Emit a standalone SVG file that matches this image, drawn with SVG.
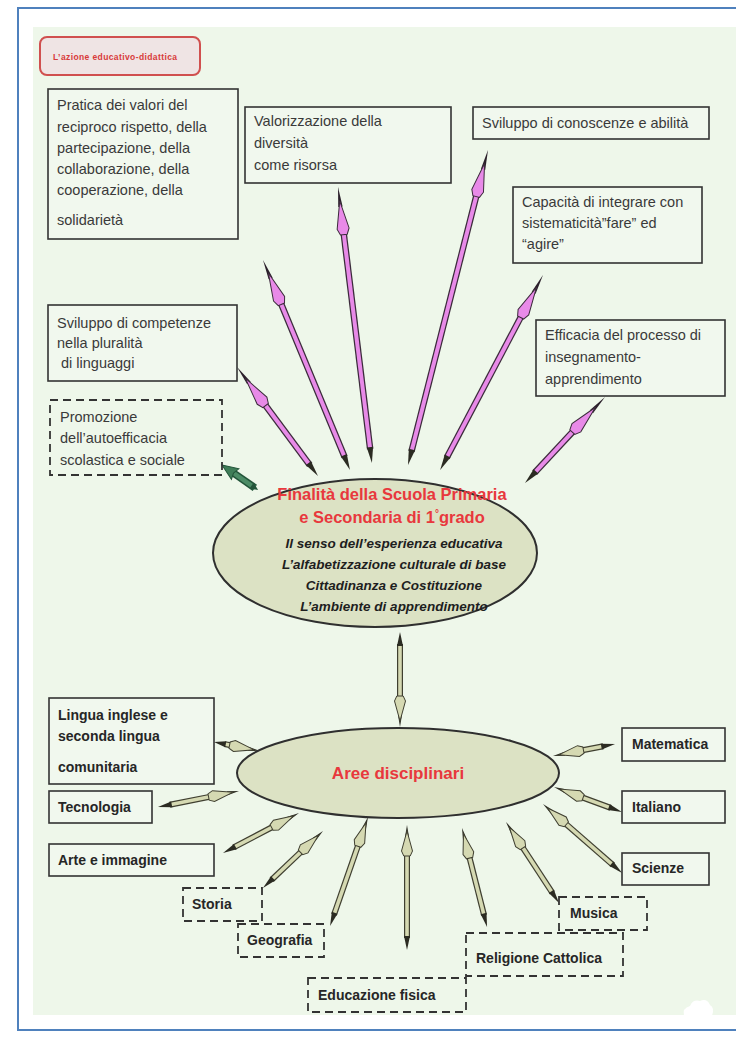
<svg xmlns="http://www.w3.org/2000/svg" xmlns:xlink="http://www.w3.org/1999/xlink" width="736" height="1038" viewBox="0 0 736 1038">
<style>
.bx{fill:#f1f8ee;stroke:#333;stroke-width:1.6}
.dbx{fill:none;stroke:#333;stroke-width:1.8;stroke-dasharray:8 5}
.t{font-family:"Liberation Sans",Arial,sans-serif;font-size:14.5px;fill:#3a3a3a}
.tb{font-family:"Liberation Sans",Arial,sans-serif;font-size:14px;font-weight:bold;fill:#262626}
.red{font-family:"Liberation Sans",Arial,sans-serif;font-weight:bold;fill:#e8383d;text-anchor:middle}
.bi{font-family:"Liberation Sans",Arial,sans-serif;font-size:13.5px;font-weight:bold;font-style:italic;fill:#1e1e1e;text-anchor:middle}
.po{stroke:#3b2b3b;stroke-width:6.5}
.pi{stroke:#e88ae8;stroke-width:4}
.oo{stroke:#3f3f30;stroke-width:6}
.oi{stroke:#d5d9b2;stroke-width:3.6}
.tl{fill:#2b2b22}
.ell{fill:#dce2c4;stroke:#2f2f2f;stroke-width:2}
</style>
<defs>
<g id="pkhead">
<path d="M0,0 L-20,-2.2 L-20,2.2 Z" fill="#2a1f2a"/>
<path d="M-14,0 L-42,-6 L-48,-3.4 L-48,3.4 L-42,6 Z" fill="#e88ae8" stroke="#3b2b3b" stroke-width="1"/>
</g>
<g id="olhead">
<path d="M0,0 L-12,-2 L-12,2 Z" fill="#2b2b22"/>
<path d="M-6,0 L-26,-5.5 L-31,-3.2 L-31,3.2 L-26,5.5 Z" fill="#d5d9b2" stroke="#3f3f30" stroke-width="1"/>
</g>
</defs>
<rect x="0" y="0" width="736" height="1038" fill="#ffffff"/>
<rect x="33" y="27" width="710" height="988" fill="#eef7ea"/>
<rect x="18" y="8" width="740" height="1022" fill="none" stroke="#4f81bd" stroke-width="2"/>

<g id="title">
<rect x="40" y="37" width="160" height="38" rx="7" fill="#efe4e4" stroke="#d0504f" stroke-width="2"/>
<text x="53" y="60" font-family="Liberation Sans,Arial,sans-serif" font-size="8.5" font-weight="bold" fill="#d83a3a" textLength="124">L’azione educativo-didattica</text>
</g>

<g id="connectors">
<g transform="translate(237,367) rotate(-126.6)"><line class="po" x1="-122" x2="-47"/><line class="pi" x1="-122" x2="-47"/><path class="tl" d="M-135.8,0 l16,-3.2 v6.4 z"/><use href="#pkhead"/></g>
<g transform="translate(263,260) rotate(-112.5)"><line class="po" x1="-213.3" x2="-47"/><line class="pi" x1="-213.3" x2="-47"/><path class="tl" d="M-227.3,0 l16,-3.2 v6.4 z"/><use href="#pkhead"/></g>
<g transform="translate(338,187) rotate(-97)"><line class="po" x1="-264.1" x2="-47"/><line class="pi" x1="-264.1" x2="-47"/><path class="tl" d="M-278.1,0 l16,-3.2 v6.4 z"/><use href="#pkhead"/></g>
<g transform="translate(488,150) rotate(-75.75)"><line class="po" x1="-311" x2="-47"/><line class="pi" x1="-311" x2="-47"/><path class="tl" d="M-325,0 l16,-3.2 v6.4 z"/><use href="#pkhead"/></g>
<g transform="translate(543,275) rotate(-62.2)"><line class="po" x1="-206.5" x2="-47"/><line class="pi" x1="-206.5" x2="-47"/><path class="tl" d="M-220.5,0 l16,-3.2 v6.4 z"/><use href="#pkhead"/></g>
<g transform="translate(605,397) rotate(-47.1)"><line class="po" x1="-103.5" x2="-47"/><line class="pi" x1="-103.5" x2="-47"/><path class="tl" d="M-117.5,0 l16,-3.2 v6.4 z"/><use href="#pkhead"/></g>
<g transform="translate(222,465) rotate(-145.2)">
<line x1="-40" x2="-14" stroke="#23553a" stroke-width="7.5"/><line x1="-40" x2="-14" stroke="#4c8c66" stroke-width="4.5"/>
<path d="M0,0 L-16,-6.5 L-14,0 L-16,6.5 Z" fill="#3f7d58" stroke="#23553a" stroke-width="1"/>
<path d="M-44,0 l8,-3.5 v7 z" fill="#23553a"/>
</g>
<g transform="translate(400,727) rotate(90)"><line class="oo" x1="-83" x2="-30"/><line class="oi" x1="-83" x2="-30"/><path class="tl" d="M-95,0 l14,-3 v6 z"/><use href="#olhead"/></g>
<g transform="translate(260,751) rotate(11.1)"><line class="oo" x1="-36" x2="-30"/><line class="oi" x1="-36" x2="-30"/><path class="tl" d="M-46.9,0 l12,-3 v6 z"/><use href="#olhead"/></g>
<g transform="translate(239,791) rotate(-11.2)"><line class="oo" x1="-70.6" x2="-30"/><line class="oi" x1="-70.6" x2="-30"/><path class="tl" d="M-82.6,0 l14,-3 v6 z"/><use href="#olhead"/></g>
<g transform="translate(299,813) rotate(-27.8)"><line class="oo" x1="-73.9" x2="-30"/><line class="oi" x1="-73.9" x2="-30"/><path class="tl" d="M-85.9,0 l14,-3 v6 z"/><use href="#olhead"/></g>
<g transform="translate(323,831) rotate(-43.5)"><line class="oo" x1="-70.8" x2="-30"/><line class="oi" x1="-70.8" x2="-30"/><path class="tl" d="M-82.8,0 l14,-3 v6 z"/><use href="#olhead"/></g>
<g transform="translate(368,817) rotate(-70.8)"><line class="oo" x1="-103.4" x2="-30"/><line class="oi" x1="-103.4" x2="-30"/><path class="tl" d="M-115.4,0 l14,-3 v6 z"/><use href="#olhead"/></g>
<g transform="translate(407,825) rotate(-90)"><line class="oo" x1="-113" x2="-30"/><line class="oi" x1="-113" x2="-30"/><path class="tl" d="M-125,0 l14,-3 v6 z"/><use href="#olhead"/></g>
<g transform="translate(462,828) rotate(-104.2)"><line class="oo" x1="-90.1" x2="-30"/><line class="oi" x1="-90.1" x2="-30"/><path class="tl" d="M-102.1,0 l14,-3 v6 z"/><use href="#olhead"/></g>
<g transform="translate(506,822) rotate(-123.2)"><line class="oo" x1="-84.8" x2="-30"/><line class="oi" x1="-84.8" x2="-30"/><path class="tl" d="M-96.8,0 l14,-3 v6 z"/><use href="#olhead"/></g>
<g transform="translate(543,804) rotate(-138.9)"><line class="oo" x1="-92.9" x2="-30"/><line class="oi" x1="-92.9" x2="-30"/><path class="tl" d="M-104.9,0 l14,-3 v6 z"/><use href="#olhead"/></g>
<g transform="translate(554,787) rotate(-159.8)"><line class="oo" x1="-60.4" x2="-30"/><line class="oi" x1="-60.4" x2="-30"/><path class="tl" d="M-72.4,0 l14,-3 v6 z"/><use href="#olhead"/></g>
<g transform="translate(553,756) rotate(169.05)"><line class="oo" x1="-51.2" x2="-30"/><line class="oi" x1="-51.2" x2="-30"/><path class="tl" d="M-63.2,0 l14,-3 v6 z"/><use href="#olhead"/></g>
</g>

<g id="n-pratica"><rect class="bx" x="48" y="89" width="190" height="150"/>
<text class="t" x="57" y="110">Pratica dei valori del</text>
<text class="t" x="57" y="132">reciproco rispetto, della</text>
<text class="t" x="57" y="153">partecipazione, della</text>
<text class="t" x="57" y="174">collaborazione, della</text>
<text class="t" x="57" y="195">cooperazione, della</text>
<text class="t" x="57" y="225">solidarietà</text></g>

<g id="n-valorizzazione"><rect class="bx" x="245" y="107" width="206" height="76"/>
<text class="t" x="254" y="126">Valorizzazione della</text>
<text class="t" x="254" y="148">diversità</text>
<text class="t" x="254" y="170">come risorsa</text></g>

<g id="n-conoscenze"><rect class="bx" x="473" y="107" width="236" height="32"/>
<text class="t" x="482" y="128">Sviluppo di conoscenze e abilità</text></g>

<g id="n-capacita"><rect class="bx" x="513" y="187" width="189" height="76"/>
<text class="t" x="522" y="207">Capacità di integrare con</text>
<text class="t" x="522" y="228">sistematicità”fare” ed</text>
<text class="t" x="522" y="249">“agire”</text></g>

<g id="n-competenze"><rect class="bx" x="48" y="305" width="189" height="76"/>
<text class="t" x="57" y="328">Sviluppo di competenze</text>
<text class="t" x="57" y="348">nella pluralità</text>
<text class="t" x="61" y="368">di linguaggi</text></g>

<g id="n-promozione"><rect class="dbx" x="50" y="400" width="172" height="75"/>
<text class="t" x="60" y="422">Promozione</text>
<text class="t" x="60" y="443">dell’autoefficacia</text>
<text class="t" x="60" y="465">scolastica e sociale</text></g>

<g id="n-efficacia"><rect class="bx" x="536" y="320" width="189" height="76"/>
<text class="t" x="545" y="340">Efficacia del processo di</text>
<text class="t" x="545" y="362">insegnamento-</text>
<text class="t" x="545" y="384">apprendimento</text></g>

<g id="n-finalita"><ellipse class="ell" cx="375" cy="553" rx="162" ry="74"/>
<text class="red" x="392" y="500" font-size="16.5">Finalità della Scuola Primaria</text>
<text class="red" x="392" y="523" font-size="16.5">e Secondaria di 1<tspan font-size="10" dy="-6">°</tspan><tspan dy="6">grado</tspan></text>
<text class="bi" x="394" y="548">Il senso dell’esperienza educativa</text>
<text class="bi" x="394" y="569">L’alfabetizzazione culturale di base</text>
<text class="bi" x="394" y="590">Cittadinanza e Costituzione</text>
<text class="bi" x="394" y="611">L’ambiente di apprendimento</text></g>

<g id="n-aree"><ellipse class="ell" cx="398" cy="773" rx="161" ry="45"/>
<text class="red" x="398" y="779" font-size="17">Aree disciplinari</text></g>

<g id="n-lingua"><rect class="bx" x="49" y="698" width="165" height="86"/>
<text class="tb" x="58" y="720">Lingua inglese e</text>
<text class="tb" x="58" y="741">seconda lingua</text>
<text class="tb" x="58" y="772">comunitaria</text></g>
<g id="n-tecnologia"><rect class="bx" x="49" y="791" width="103" height="32"/>
<text class="tb" x="58" y="812">Tecnologia</text></g>
<g id="n-arte"><rect class="bx" x="49" y="844" width="165" height="32"/>
<text class="tb" x="58" y="865">Arte e immagine</text></g>
<g id="n-matematica"><rect class="bx" x="622" y="728" width="103" height="33"/>
<text class="tb" x="632" y="749">Matematica</text></g>
<g id="n-italiano"><rect class="bx" x="622" y="791" width="103" height="32"/>
<text class="tb" x="632" y="812">Italiano</text></g>
<g id="n-scienze"><rect class="bx" x="622" y="853" width="87" height="32"/>
<text class="tb" x="632" y="873">Scienze</text></g>
<g id="n-storia"><rect class="dbx" x="183" y="888" width="79" height="33"/>
<text class="tb" x="192" y="909">Storia</text></g>
<g id="n-geografia"><rect class="dbx" x="238" y="924" width="86" height="33"/>
<text class="tb" x="247" y="945">Geografia</text></g>
<g id="n-educazione"><rect class="dbx" x="308" y="978" width="158" height="34"/>
<text class="tb" x="318" y="1000">Educazione fisica</text></g>
<g id="n-musica"><rect class="dbx" x="559" y="897" width="88" height="33"/>
<text class="tb" x="570" y="918">Musica</text></g>
<g id="n-religione"><rect class="dbx" x="466" y="933" width="157" height="43"/>
<text class="tb" x="476" y="963">Religione Cattolica</text></g>

<path d="M684,1016 q-2,-8 6,-10 q3,-7 10,-5 q7,-3 10,4 q5,3 2,11 z" fill="#ffffff"/>
</svg>
